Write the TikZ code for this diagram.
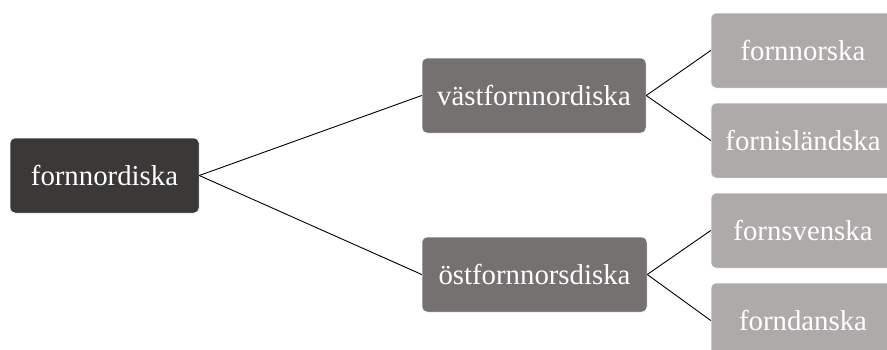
\documentclass[tikz,border=0pt]{standalone}
\usepackage{fontspec}
\setmainfont{Liberation Serif}
\definecolor{rootc}{HTML}{3B3838}
\definecolor{midc}{HTML}{767171}
\definecolor{leafc}{HTML}{AEAAAA}
\begin{document}
\begin{tikzpicture}[x=1pt,y=-1pt,
  box/.style={rounded corners=5pt, inner sep=0pt, text=white, draw=white, line width=0.5pt,
    font=\fontsize{28.8}{32}\selectfont, minimum height=75pt},
  conn/.style={draw=black, line width=0.9pt}]
\useasboundingbox (0,0) rectangle (887,349);
\clip (0,0) rectangle (887,349);
\node[box, fill=rootc, minimum width=189pt] (root) at (104.5,175.5) {fornnordiska};
\node[box, fill=midc, minimum width=224pt] (vast) at (534,95.5) {västfornnordiska};
\node[box, fill=midc, minimum width=225pt] (ost) at (534.5,274.5) {östfornnorsdiska};
\node[box, fill=leafc, minimum width=184pt] (nor) at (803,50.5) {fornnorska};
\node[box, fill=leafc, minimum width=184pt] (isl) at (803,140.5) {fornisländska};
\node[box, fill=leafc, minimum width=184pt] (sve) at (803,230.5) {fornsvenska};
\node[box, fill=leafc, minimum width=184pt] (dan) at (803,320.5) {forndanska};
\draw[conn] (root.east) -- (vast.west);
\draw[conn] (root.east) -- (ost.west);
\draw[conn] (vast.east) -- (nor.west);
\draw[conn] (vast.east) -- (isl.west);
\draw[conn] (ost.east) -- (sve.west);
\draw[conn] (ost.east) -- (dan.west);
\end{tikzpicture}
\end{document}
